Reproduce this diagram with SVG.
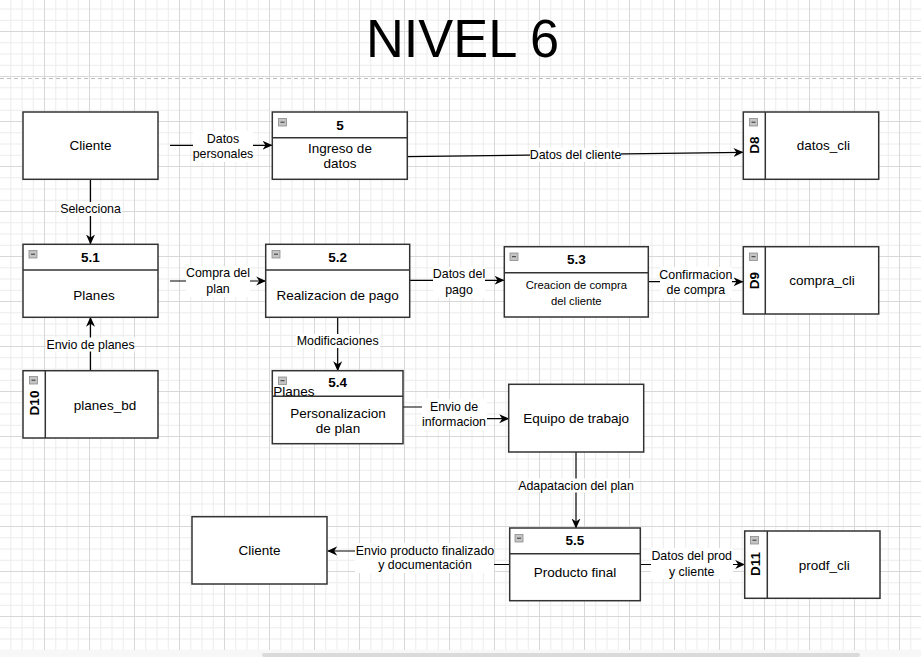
<svg xmlns="http://www.w3.org/2000/svg" width="921" height="657" viewBox="0 0 921 657">
<style>
text{font-family:"Liberation Sans",Arial,Helvetica,sans-serif;fill:#000;}
.n{font-size:13.5px;text-anchor:middle;dominant-baseline:central;}
.h{font-size:13.5px;font-weight:bold;text-anchor:middle;dominant-baseline:central;}
.s{font-size:11.25px;text-anchor:middle;dominant-baseline:central;}
.e{font-size:12.4px;text-anchor:middle;dominant-baseline:central;}
.box{fill:#fff;stroke:#333;stroke-width:1.5;}
.sep{stroke:#333;stroke-width:1.5;}
.edge{fill:none;stroke:#000;stroke-width:1.2;}
.lbg{fill:#fff;}
.ic{fill:#c4c4c4;stroke:#8c8c8c;stroke-width:0.8;}
.icm{stroke:#333;stroke-width:1;}
</style>
<defs>
<pattern id="grid" x="-1" y="-14" width="45" height="45" patternUnits="userSpaceOnUse">
<path d="M11.75,0V45M23,0V45M34.25,0V45M0,11.75H45M0,23H45M0,34.25H45" stroke="#ececec" stroke-width="1" fill="none"/>
<path d="M0.5,0V45M0,0.5H45" stroke="#d8d8d8" stroke-width="1" fill="none"/>
</pattern>
<marker id="arr" viewBox="0 0 10 10" refX="9.5" refY="5" markerWidth="10" markerHeight="10" markerUnits="userSpaceOnUse" orient="auto">
<path d="M0,0.5 L10,5 L0,9.5 L3,5 Z" fill="#000"/>
</marker>
</defs>
<rect x="0" y="0" width="921" height="657" fill="#fff"/>
<rect x="0" y="0" width="921" height="650" fill="url(#grid)"/>
<line x1="0" y1="78.5" x2="921" y2="78.5" stroke="#bdbdbd" stroke-width="1" stroke-dasharray="4 3"/>
<rect x="0" y="650" width="921" height="7" fill="#f7f7f7"/>
<rect x="262" y="653" width="598" height="4" rx="2" fill="#dadada"/>

<text x="462.5" y="57" font-size="54" textLength="193" lengthAdjust="spacingAndGlyphs" text-anchor="middle">NIVEL 6</text>

<g id="connectors">
<g id="e1"><path class="edge" d="M170,145.3 H272" marker-end="url(#arr)"/><rect class="lbg" x="193" y="131" width="60" height="31"/><text class="e" x="223" y="138.5">Datos</text><text class="e" x="223" y="154">personales</text></g>
<g id="e2"><path class="edge" d="M407,156.7 L743,152.3" marker-end="url(#arr)"/><rect class="lbg" x="530" y="148" width="91" height="14"/><text class="e" x="575.5" y="155">Datos del cliente</text></g>
<g id="e3"><path class="edge" d="M90.5,179.3 V244" marker-end="url(#arr)"/><rect class="lbg" x="59" y="202" width="63" height="14"/><text class="e" x="90.5" y="209">Selecciona</text></g>
<g id="e4"><path class="edge" d="M170,281 H265.7" marker-end="url(#arr)"/><rect class="lbg" x="186" y="266" width="64" height="31"/><text class="e" x="218" y="273">Compra del</text><text class="e" x="218" y="289">plan</text></g>
<g id="e5"><path class="edge" d="M409.7,280.3 H504" marker-end="url(#arr)"/><rect class="lbg" x="433" y="267" width="52" height="31"/><text class="e" x="459" y="274">Datos del</text><text class="e" x="459" y="290">pago</text></g>
<g id="e6"><path class="edge" d="M648.3,281.7 H743" marker-end="url(#arr)"/><rect class="lbg" x="660" y="267" width="72" height="31"/><text class="e" x="695.8" y="274.7">Confirmacion</text><text class="e" x="695.8" y="289.7">de compra</text></g>
<g id="e7"><path class="edge" d="M90.5,370.7 V317.3" marker-end="url(#arr)"/><rect class="lbg" x="46" y="337.5" width="89" height="14"/><text class="e" x="90.5" y="344.5">Envio de planes</text></g>
<g id="e8"><path class="edge" d="M337.7,317.3 V370.7" marker-end="url(#arr)"/><rect class="lbg" x="296" y="334" width="84" height="14"/><text class="e" x="337.7" y="340.7">Modificaciones</text></g>
<g id="e9"><path class="edge" d="M403,407 H455 V418.7 H508.7" marker-end="url(#arr)"/><rect class="lbg" x="422" y="399" width="65" height="31"/><text class="e" x="454" y="407">Envio de</text><text class="e" x="454" y="422">informacion</text></g>
<g id="e10"><path class="edge" d="M576,452 V528" marker-end="url(#arr)"/><rect class="lbg" x="518" y="478.5" width="116" height="14"/><text class="e" x="576" y="485.7">Adapatacion del plan</text></g>
<g id="e11"><path class="edge" d="M509.7,564.5 H425 V551 H327.7" marker-end="url(#arr)"/><rect class="lbg" x="355" y="543" width="139" height="30"/><text class="e" x="425" y="551">Envio producto finalizado</text><text class="e" x="425" y="564.5">y documentación</text></g>
<g id="e12"><path class="edge" d="M640.3,564.5 H744.7" marker-end="url(#arr)"/><rect class="lbg" x="651" y="548" width="82" height="31"/><text class="e" x="691.7" y="556">Datos del prod</text><text class="e" x="691.7" y="571.5">y cliente</text></g>
</g>

<g id="cliente1"><rect class="box" x="23" y="112" width="135" height="67.3"/><text class="n" x="90.5" y="145.5">Cliente</text></g>

<g id="p5"><rect class="box" x="272.3" y="112" width="135" height="67.3"/><line class="sep" x1="272.3" y1="137.7" x2="407.3" y2="137.7"/><rect class="ic" x="278.5" y="118.5" width="8" height="7.5"/><line class="icm" x1="280.5" y1="122.2" x2="284.5" y2="122.2"/><text class="h" x="340" y="125">5</text><text class="n" x="340" y="148.7">Ingreso de</text><text class="n" x="340" y="163.7">datos</text></g>

<g id="d8"><rect class="box" x="743.3" y="112" width="135.4" height="67.3"/><line class="sep" x1="765.3" y1="112" x2="765.3" y2="179.3"/><rect class="ic" x="749.5" y="118.5" width="8" height="7.5"/><line class="icm" x1="751.5" y1="122.2" x2="755.5" y2="122.2"/><text class="h" transform="translate(754.3,145) rotate(-90)" x="0" y="0">D8</text><text class="n" x="823.3" y="145">datos_cli</text></g>

<g id="p51"><rect class="box" x="23" y="244.3" width="135" height="73"/><line class="sep" x1="23" y1="270" x2="158" y2="270"/><rect class="ic" x="29" y="250.5" width="8" height="7.5"/><line class="icm" x1="31" y1="254.2" x2="35" y2="254.2"/><text class="h" x="90.5" y="257">5.1</text><text class="n" x="94" y="295">Planes</text></g>

<g id="p52"><rect class="box" x="265.7" y="244.3" width="144" height="73"/><line class="sep" x1="265.7" y1="270" x2="409.7" y2="270"/><rect class="ic" x="272" y="250.5" width="8" height="7.5"/><line class="icm" x1="274" y1="254.2" x2="278" y2="254.2"/><text class="h" x="337.7" y="257">5.2</text><text class="n" x="337.7" y="295">Realizacion de pago</text></g>

<g id="p53"><rect class="box" x="504.3" y="246.7" width="144" height="70.3"/><line class="sep" x1="504.3" y1="272.7" x2="648.3" y2="272.7"/><rect class="ic" x="510" y="253" width="8" height="7.5"/><line class="icm" x1="512" y1="256.7" x2="516" y2="256.7"/><text class="h" x="576.3" y="259.5">5.3</text><text class="s" x="576.3" y="285">Creacion de compra</text><text class="s" x="576.3" y="301">del cliente</text></g>

<g id="d9"><rect class="box" x="743.3" y="246.7" width="135.4" height="67.3"/><line class="sep" x1="765.3" y1="246.7" x2="765.3" y2="314"/><rect class="ic" x="749.5" y="253" width="8" height="7.5"/><line class="icm" x1="751.5" y1="256.7" x2="755.5" y2="256.7"/><text class="h" transform="translate(754.3,280.5) rotate(-90)" x="0" y="0">D9</text><text class="n" x="822" y="280.7">compra_cli</text></g>

<g id="d10"><rect class="box" x="23" y="370.7" width="135" height="67.3"/><line class="sep" x1="45.3" y1="370.7" x2="45.3" y2="438"/><rect class="ic" x="29.5" y="376.5" width="8" height="7.5"/><line class="icm" x1="31.5" y1="380.2" x2="35.5" y2="380.2"/><text class="h" transform="translate(34.3,403) rotate(-90)" x="0" y="0">D10</text><text class="n" x="105" y="405">planes_bd</text></g>

<g id="p54"><rect class="box" x="272.3" y="370.7" width="130.7" height="73"/><line class="sep" x1="272.3" y1="396.3" x2="403" y2="396.3"/><rect class="ic" x="278.5" y="377" width="8" height="7.5"/><line class="icm" x1="280.5" y1="380.7" x2="284.5" y2="380.7"/><text class="h" x="337.7" y="382">5.4</text><text class="n" x="273.3" y="391.5" style="text-anchor:start">Planes</text><text class="n" x="338" y="413.3">Personalizacion</text><text class="n" x="338" y="428.3">de plan</text></g>

<g id="equipo"><rect class="box" x="508.7" y="384.3" width="135" height="67.7"/><text class="n" x="576.2" y="418.3">Equipo de trabajo</text></g>

<g id="cliente2"><rect class="box" x="192" y="516.7" width="135" height="67.3"/><text class="n" x="259.5" y="550.5">Cliente</text></g>

<g id="p55"><rect class="box" x="509.7" y="528" width="130.6" height="72.7"/><line class="sep" x1="509.7" y1="553.7" x2="640.3" y2="553.7"/><rect class="ic" x="515" y="534.5" width="8" height="7.5"/><line class="icm" x1="517" y1="538.2" x2="521" y2="538.2"/><text class="h" x="575" y="540.5">5.5</text><text class="n" x="575" y="572.3">Producto final</text></g>

<g id="d11"><rect class="box" x="744.7" y="531" width="135.3" height="67.3"/><line class="sep" x1="767.3" y1="531" x2="767.3" y2="598.3"/><rect class="ic" x="750.5" y="536.5" width="8" height="7.5"/><line class="icm" x1="752.5" y1="540.2" x2="756.5" y2="540.2"/><text class="h" transform="translate(755.8,564) rotate(-90)" x="0" y="0">D11</text><text class="n" x="824.3" y="565">prodf_cli</text></g>
</svg>
